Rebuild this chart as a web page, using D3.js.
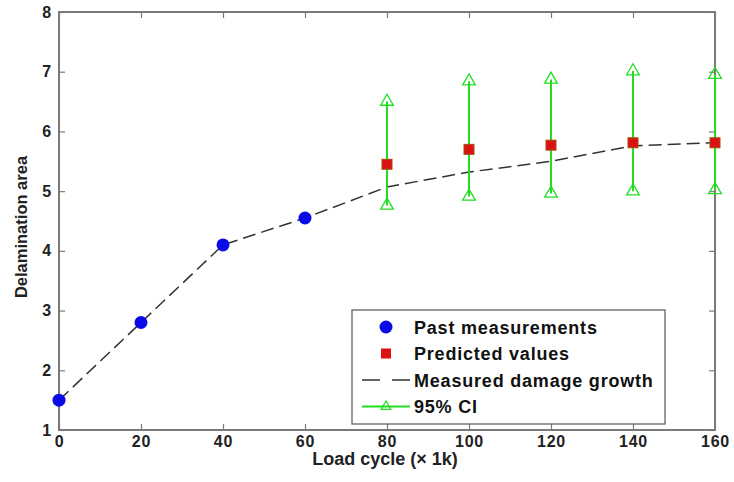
<!DOCTYPE html>
<html>
<head>
<meta charset="utf-8">
<script src="https://d3js.org/d3.v7.min.js"></script>
<style>
body { margin: 0; background: #fff; }
text { font-family: Arial, "Liberation Sans", sans-serif; font-weight: bold; }
</style>
</head>
<body>
<div id="visual"></div>
<script>
// chart values
var pastCycles = [0, 20, 40, 60];
var pastValues = [1.5, 2.8, 4.1, 4.55];
var growthCycles = [0, 20, 40, 60, 80, 100, 120, 140, 160];
var growthValues = [1.5, 2.8, 4.1, 4.55, 5.07, 5.32, 5.5, 5.76, 5.81];
var predCycles = [80, 100, 120, 140, 160];
var predValues = [5.45, 5.7, 5.77, 5.81, 5.81];
var ciUpper = [6.5, 6.84, 6.87, 7.01, 6.95];
var ciLower = [4.76, 4.91, 4.96, 5.0, 5.02];
var xTicks = [0, 20, 40, 60, 80, 100, 120, 140, 160];
var yTicks = [1, 2, 3, 4, 5, 6, 7, 8];
var legendLabels = ["Past measurements", "Predicted values", "Measured damage growth", "95% CI"];

var W = 734, H = 482;
var margin = { left: 59, top: 12, right: 19, bottom: 52 };
var iw = W - margin.left - margin.right, ih = H - margin.top - margin.bottom;

var svg = d3.select("#visual").append("svg")
	.attr("width", W).attr("height", H);

var x = d3.scaleLinear().domain([0, 160]).range([0, iw]);
var y = d3.scaleLinear().domain([1, 8]).range([ih, 0]);

var g = svg.append("g").attr("transform", "translate(" + margin.left + "," + margin.top + ")");

var axisColor = "#7a7a7a";
function styleAxis(sel, showLabels) {
	sel.select(".domain").remove();
	sel.selectAll("line").attr("stroke", axisColor).attr("stroke-width", 1.2);
	sel.selectAll("text").attr("fill", "#222").style("font-size", "16px").style("letter-spacing", "0.8px");
	if (!showLabels) sel.selectAll("text").remove();
}

// bottom / top / left / right axes with inward ticks
g.append("g").attr("transform", "translate(0," + ih + ")")
	.call(d3.axisBottom(x).tickValues(xTicks).tickFormat(d3.format("d")).tickSizeInner(-6).tickSizeOuter(0).tickPadding(6))
	.call(function (s) { styleAxis(s, true); });
g.append("g")
	.call(d3.axisTop(x).tickValues(xTicks).tickSizeInner(-6).tickSizeOuter(0))
	.call(function (s) { styleAxis(s, false); });
g.append("g")
	.call(d3.axisLeft(y).tickValues(yTicks).tickFormat(d3.format("d")).tickSizeInner(-6).tickSizeOuter(0).tickPadding(7))
	.call(function (s) { styleAxis(s, true); });
g.append("g").attr("transform", "translate(" + iw + ",0)")
	.call(d3.axisRight(y).tickValues(yTicks).tickSizeInner(-6).tickSizeOuter(0))
	.call(function (s) { styleAxis(s, false); });

g.append("rect").attr("width", iw).attr("height", ih)
	.attr("fill", "none").attr("stroke", axisColor).attr("stroke-width", 2);

// measured damage growth
var growth = growthCycles.map(function (c, i) { return [c, growthValues[i]]; });
g.append("path").datum(growth)
	.attr("fill", "none").attr("stroke", "#333").attr("stroke-width", 1.5)
	.attr("stroke-dasharray", "13,6")
	.attr("d", d3.line().x(function (d) { return x(d[0]); }).y(function (d) { return y(d[1]); }));

// confidence intervals
var tri = d3.symbol().type(d3.symbolTriangle).size(70);
var ci = g.append("g");
predCycles.forEach(function (c, i) {
	ci.append("line")
		.attr("x1", x(c)).attr("x2", x(c))
		.attr("y1", y(ciLower[i])).attr("y2", y(ciUpper[i]))
		.attr("stroke", "#22dd22").attr("stroke-width", 2);
	[ciLower[i], ciUpper[i]].forEach(function (v) {
		ci.append("path").attr("d", tri)
			.attr("transform", "translate(" + x(c) + "," + y(v) + ")")
			.attr("fill", "none").attr("stroke", "#22dd22").attr("stroke-width", 1.3);
	});
});

// predicted values
g.selectAll(".pred").data(predCycles).enter().append("rect")
	.attr("x", function (d) { return x(d) - 5; })
	.attr("y", function (d, i) { return y(predValues[i]) - 5; })
	.attr("width", 10).attr("height", 10)
	.attr("fill", "#dd1111").attr("stroke", "#a05010").attr("stroke-width", 1);

// past measurements
g.selectAll(".past").data(pastCycles).enter().append("circle")
	.attr("cx", function (d) { return x(d); })
	.attr("cy", function (d, i) { return y(pastValues[i]); })
	.attr("r", 6.5).attr("fill", "#0a0ae6");

// axis titles
svg.append("text").attr("x", 385).attr("y", 465)
	.attr("text-anchor", "middle").style("font-size", "18px").attr("fill", "#222")
	.text("Load cycle (\u00d7 1k)");
svg.append("text")
	.attr("transform", "translate(27,227) rotate(-90)")
	.attr("text-anchor", "middle").style("font-size", "16.5px").attr("fill", "#222")
	.text("Delamination area");

// legend
var lg = svg.append("g").attr("transform", "translate(352,310)");
lg.append("rect").attr("width", 313).attr("height", 114)
	.attr("fill", "#fff").attr("stroke", "#555").attr("stroke-width", 1.2);
legendLabels.forEach(function (t, i) {
	var cy = 17 + i * 26.5;
	lg.append("text").attr("x", 62).attr("y", cy + 6.5)
		.style("font-size", "18px").style("letter-spacing", "0.8px")
		.attr("fill", "#111").text(t);
});
lg.append("circle").attr("cx", 34).attr("cy", 17).attr("r", 6.5).attr("fill", "#0a0ae6");
lg.append("rect").attr("x", 29).attr("y", 38.5).attr("width", 10).attr("height", 10)
	.attr("fill", "#dd1111");
lg.append("line").attr("x1", 10).attr("x2", 58).attr("y1", 70).attr("y2", 70)
	.attr("stroke", "#333").attr("stroke-width", 1.5).attr("stroke-dasharray", "18,12");
lg.append("line").attr("x1", 10).attr("x2", 58).attr("y1", 96.5).attr("y2", 96.5)
	.attr("stroke", "#22dd22").attr("stroke-width", 2);
lg.append("path").attr("d", d3.symbol().type(d3.symbolTriangle).size(40))
	.attr("transform", "translate(34,96.5)")
	.attr("fill", "none").attr("stroke", "#22dd22").attr("stroke-width", 1.3);
</script>
</body>
</html>
